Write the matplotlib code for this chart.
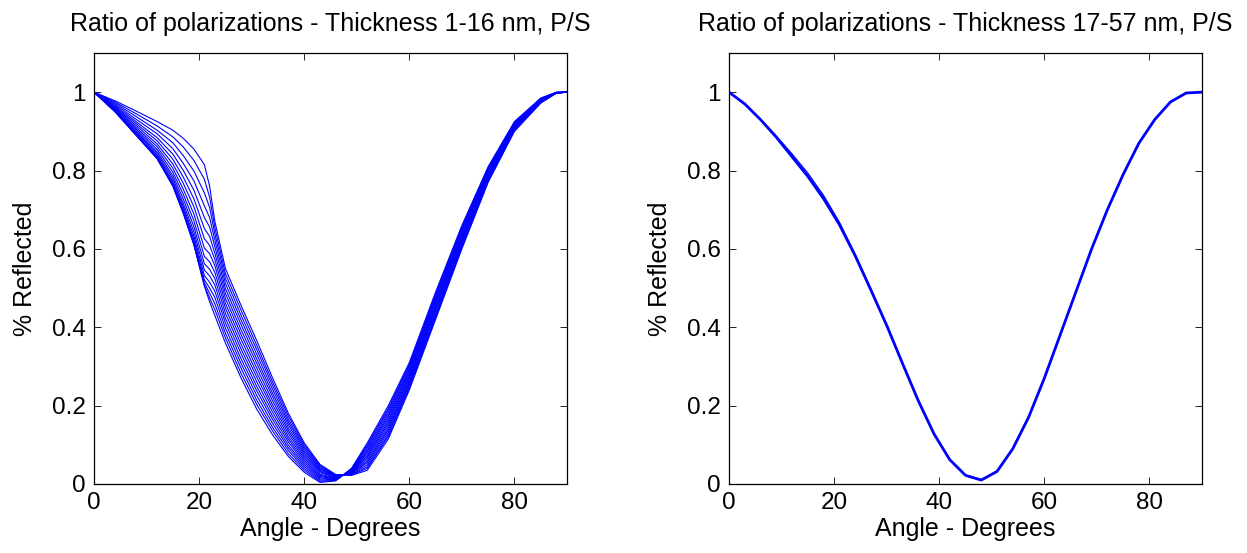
import matplotlib
matplotlib.use("Agg")
import matplotlib.pyplot as plt

plt.rcParams['font.family'] = ['Liberation Sans', 'DejaVu Sans']

angles = [0, 4, 8, 12, 15, 17, 19, 21, 22, 23, 25, 28, 31, 34, 37, 40, 43, 46,
          49, 52, 56, 60, 65, 70, 75, 80, 85, 88, 90]

# Left panel: thickness 1-16 nm
c0 = [1.0, 0.95, 0.89, 0.83, 0.76, 0.69, 0.61, 0.505, 0.465, 0.43, 0.36, 0.27, 0.19, 0.125, 0.07, 0.03, 0.004, 0.008, 0.04, 0.105, 0.2, 0.31, 0.49, 0.66, 0.81, 0.925, 0.985, 1.0, 1.0]
c1 = [1.0, 0.950, 0.890, 0.831, 0.761, 0.691, 0.612, 0.507, 0.475, 0.445, 0.373, 0.282, 0.202, 0.135, 0.077, 0.035, 0.007, 0.009, 0.039, 0.100, 0.194, 0.305, 0.485, 0.656, 0.807, 0.923, 0.984, 1.0, 1.0]
c2 = [1.0, 0.951, 0.892, 0.833, 0.764, 0.695, 0.617, 0.513, 0.487, 0.460, 0.385, 0.295, 0.213, 0.144, 0.085, 0.040, 0.010, 0.010, 0.038, 0.096, 0.189, 0.301, 0.481, 0.652, 0.805, 0.922, 0.983, 0.999, 1.0]
c3 = [1.0, 0.952, 0.893, 0.835, 0.768, 0.701, 0.624, 0.521, 0.500, 0.476, 0.398, 0.307, 0.225, 0.154, 0.092, 0.045, 0.013, 0.011, 0.036, 0.091, 0.183, 0.296, 0.476, 0.648, 0.802, 0.920, 0.982, 0.999, 1.0]
c4 = [1.0, 0.953, 0.896, 0.839, 0.773, 0.708, 0.633, 0.532, 0.515, 0.492, 0.411, 0.319, 0.237, 0.164, 0.099, 0.050, 0.016, 0.012, 0.035, 0.086, 0.177, 0.291, 0.471, 0.644, 0.799, 0.918, 0.982, 0.999, 1.0]
c5 = [1.0, 0.954, 0.899, 0.843, 0.780, 0.716, 0.644, 0.546, 0.531, 0.508, 0.423, 0.332, 0.248, 0.173, 0.107, 0.055, 0.019, 0.013, 0.034, 0.082, 0.172, 0.287, 0.467, 0.640, 0.797, 0.917, 0.981, 0.999, 1.0]
c6 = [1.0, 0.955, 0.902, 0.848, 0.787, 0.727, 0.657, 0.562, 0.548, 0.524, 0.436, 0.344, 0.260, 0.183, 0.114, 0.060, 0.022, 0.014, 0.033, 0.077, 0.166, 0.282, 0.462, 0.636, 0.794, 0.915, 0.980, 0.999, 1.0]
c7 = [1.0, 0.957, 0.906, 0.854, 0.796, 0.739, 0.672, 0.581, 0.567, 0.540, 0.449, 0.356, 0.272, 0.193, 0.121, 0.065, 0.025, 0.015, 0.032, 0.072, 0.160, 0.277, 0.457, 0.632, 0.791, 0.913, 0.979, 0.999, 1.0]
c8 = [1.0, 0.959, 0.910, 0.861, 0.806, 0.752, 0.689, 0.602, 0.588, 0.557, 0.461, 0.369, 0.283, 0.202, 0.129, 0.070, 0.029, 0.017, 0.030, 0.068, 0.155, 0.273, 0.453, 0.628, 0.789, 0.912, 0.978, 0.998, 1.0]
c9 = [1.0, 0.961, 0.915, 0.868, 0.817, 0.767, 0.708, 0.626, 0.609, 0.573, 0.474, 0.381, 0.295, 0.212, 0.136, 0.075, 0.032, 0.018, 0.029, 0.063, 0.149, 0.268, 0.448, 0.624, 0.786, 0.910, 0.977, 0.998, 1.0]
c10 = [1.0, 0.963, 0.920, 0.876, 0.829, 0.783, 0.728, 0.652, 0.632, 0.589, 0.487, 0.393, 0.307, 0.222, 0.143, 0.080, 0.035, 0.019, 0.028, 0.058, 0.143, 0.263, 0.443, 0.620, 0.783, 0.908, 0.976, 0.998, 1.0]
c11 = [1.0, 0.966, 0.925, 0.884, 0.842, 0.800, 0.750, 0.680, 0.656, 0.606, 0.499, 0.406, 0.318, 0.231, 0.151, 0.085, 0.038, 0.020, 0.027, 0.054, 0.138, 0.259, 0.439, 0.616, 0.781, 0.907, 0.975, 0.998, 1.0]
c12 = [1.0, 0.969, 0.931, 0.894, 0.856, 0.818, 0.774, 0.710, 0.680, 0.622, 0.512, 0.418, 0.330, 0.241, 0.158, 0.090, 0.041, 0.021, 0.026, 0.049, 0.132, 0.254, 0.434, 0.612, 0.778, 0.905, 0.975, 0.998, 1.0]
c13 = [1.0, 0.972, 0.938, 0.903, 0.871, 0.838, 0.799, 0.743, 0.706, 0.638, 0.525, 0.430, 0.342, 0.251, 0.165, 0.095, 0.044, 0.022, 0.024, 0.044, 0.126, 0.249, 0.429, 0.608, 0.775, 0.903, 0.974, 0.998, 1.0]
c14 = [1.0, 0.975, 0.945, 0.914, 0.886, 0.860, 0.826, 0.778, 0.732, 0.654, 0.537, 0.443, 0.353, 0.260, 0.173, 0.100, 0.047, 0.023, 0.023, 0.040, 0.121, 0.245, 0.425, 0.604, 0.773, 0.902, 0.973, 0.998, 1.0]
c15 = [1.0, 0.978, 0.952, 0.925, 0.903, 0.882, 0.855, 0.815, 0.76, 0.67, 0.55, 0.455, 0.365, 0.27, 0.18, 0.105, 0.05, 0.024, 0.022, 0.035, 0.115, 0.24, 0.42, 0.60, 0.77, 0.90, 0.972, 0.998, 1.0]
left_curves = [c0, c1, c2, c3, c4, c5, c6, c7, c8, c9, c10, c11, c12, c13, c14, c15]

# Right panel: thickness 17-57 nm (curves nearly coincide)
angles_r = [0, 3, 6, 9, 12, 15, 18, 21, 24, 27, 30, 33, 36, 39, 42, 45, 48,
            51, 54, 57, 60, 63, 66, 69, 72, 75, 78, 81, 84, 87, 90]
r_main = [1.0, 0.97, 0.93, 0.885, 0.835, 0.785, 0.728, 0.662, 0.583, 0.495, 0.405, 0.308, 0.213, 0.128, 0.062, 0.022, 0.01, 0.032, 0.09, 0.17, 0.27, 0.38, 0.49, 0.6, 0.7, 0.79, 0.87, 0.93, 0.975, 0.998, 1.0]
r_var = [1.0, 0.97, 0.931, 0.888, 0.842, 0.793, 0.736, 0.668, 0.586, 0.497, 0.406, 0.309, 0.214, 0.129, 0.063, 0.023, 0.011, 0.033, 0.091, 0.171, 0.271, 0.381, 0.491, 0.601, 0.701, 0.79, 0.87, 0.93, 0.975, 0.998, 1.0]
right_curves = [r_main, r_var]

titles = ["Ratio of polarizations - Thickness 1-16 nm, P/S",
          "Ratio of polarizations - Thickness 17-57 nm, P/S"]
xticks = [0, 20, 40, 60, 80]
yticks = [0, 0.2, 0.4, 0.6, 0.8, 1.0]
ytick_labels = ["0", "0.2", "0.4", "0.6", "0.8", "1"]

W, H = 1247, 553
fig = plt.figure(figsize=(W / 100, H / 100), dpi=100)
ax1 = fig.add_axes([94 / W, (H - 484) / H, 473 / W, 431 / H])
ax2 = fig.add_axes([729 / W, (H - 484) / H, 473 / W, 431 / H])

for c in left_curves:
    ax1.plot(angles, c, color=(0, 0, 1), lw=0.8)
ax2.plot(angles_r, right_curves[1], color=(0, 0, 1), lw=1.0)
ax2.plot(angles_r, right_curves[0], color=(0, 0, 1), lw=2.0)

for ax, t in zip([ax1, ax2], titles):
    ax.set_xlim(0, 90)
    ax.set_ylim(0, 1.1)
    ax.set_xticks(xticks)
    ax.set_xticklabels([str(v) for v in xticks])
    ax.set_yticks(yticks)
    ax.set_yticklabels(ytick_labels)
    ax.tick_params(direction='in', top=True, right=True, labelsize=17.5,
                   length=5, width=0.6, pad=6)
    for s in ax.spines.values():
        s.set_linewidth(0.9)
    ax.set_title(t, fontsize=18, pad=16)
    ax.set_xlabel("Angle - Degrees", fontsize=18, labelpad=2)
    ax.set_ylabel("% Reflected", fontsize=18, labelpad=11)

fig.savefig("out.png", dpi=100)
